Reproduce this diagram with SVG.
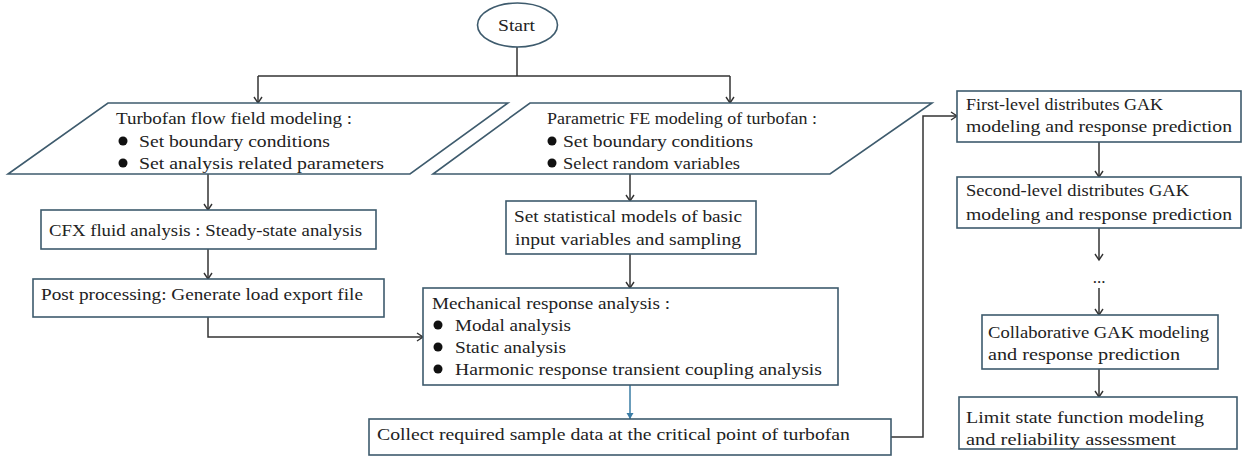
<svg xmlns="http://www.w3.org/2000/svg" width="1246" height="457" viewBox="0 0 1246 457">
<defs>
<marker id="arr" markerWidth="10" markerHeight="10" refX="8" refY="5" orient="auto" markerUnits="userSpaceOnUse">
<path d="M2,1 L8,5 L2,9" fill="none" stroke="#333" stroke-width="1.4"/>
</marker>
<marker id="arrb" markerWidth="8" markerHeight="8" refX="6" refY="4" orient="auto" markerUnits="userSpaceOnUse">
<path d="M0,0.5 L6,4 L0,7.5 Z" fill="#3a7ca5"/>
</marker>
<style>
.box{fill:#fff;stroke:#3e5b6d;stroke-width:1.6}
.t{font-family:"Liberation Serif","Times New Roman",serif;font-size:17px;fill:#222}
.c{fill:none;stroke:#333;stroke-width:1.5}
.cb{fill:none;stroke:#3a7ca5;stroke-width:1.5}
.bul{fill:#111}
</style>
</defs>
<g id="connectors">
<path class="c" d="M517,47 V76"/>
<path class="c" d="M258,76 H730"/>
<path class="c" d="M258,76 V103" marker-end="url(#arr)"/>
<path class="c" d="M730,76 V103" marker-end="url(#arr)"/>
<path class="c" d="M208,174 V210" marker-end="url(#arr)"/>
<path class="c" d="M208,249 V279" marker-end="url(#arr)"/>
<path class="c" d="M208,317 V337 H423" marker-end="url(#arr)"/>
<path class="c" d="M630,174 V201" marker-end="url(#arr)"/>
<path class="c" d="M630,254 V288" marker-end="url(#arr)"/>
<path class="cb" d="M630,385 V419" marker-end="url(#arrb)"/>
<path class="c" d="M891,437 H923 V116 H957" marker-end="url(#arr)"/>
<path class="c" d="M1099,142 V177" marker-end="url(#arr)"/>
<path class="c" d="M1099,228 V260" marker-end="url(#arr)"/>
<path class="c" d="M1099,288 V315" marker-end="url(#arr)"/>
<path class="c" d="M1099,369 V397" marker-end="url(#arr)"/>
</g>
<g id="start">
<ellipse class="box" cx="517.5" cy="25" rx="40" ry="22"/>
<text class="t" x="498" y="31" textLength="37" lengthAdjust="spacingAndGlyphs">Start</text>
</g>
<g id="flowfield">
<polygon class="box" points="108,103 508,103 410,174 8,174"/>
<text class="t" x="116" y="124" textLength="236" lengthAdjust="spacingAndGlyphs">Turbofan flow field modeling :</text>
<circle class="bul" cx="123" cy="141" r="4.5"/>
<text class="t" x="139" y="147" textLength="191" lengthAdjust="spacingAndGlyphs">Set boundary conditions</text>
<circle class="bul" cx="123" cy="163" r="4.5"/>
<text class="t" x="139" y="169" textLength="245" lengthAdjust="spacingAndGlyphs">Set analysis related parameters</text>
</g>
<g id="femodel">
<polygon class="box" points="530,103 932,103 830,174 433,174"/>
<text class="t" x="547" y="124" textLength="270" lengthAdjust="spacingAndGlyphs">Parametric FE modeling of turbofan :</text>
<circle class="bul" cx="552" cy="141" r="4.5"/>
<text class="t" x="563" y="147" textLength="190" lengthAdjust="spacingAndGlyphs">Set boundary conditions</text>
<circle class="bul" cx="552" cy="163" r="4.5"/>
<text class="t" x="563" y="169" textLength="177" lengthAdjust="spacingAndGlyphs">Select random variables</text>
</g>
<g id="cfx">
<rect class="box" x="41" y="210" width="335" height="39"/>
<text class="t" x="49" y="236" textLength="313" lengthAdjust="spacingAndGlyphs">CFX fluid analysis : Steady-state analysis</text>
</g>
<g id="post">
<rect class="box" x="33" y="279" width="351" height="38"/>
<text class="t" x="41" y="300" textLength="322" lengthAdjust="spacingAndGlyphs">Post processing: Generate load export file</text>
</g>
<g id="stat">
<rect class="box" x="506" y="201" width="250" height="53"/>
<text class="t" x="514" y="222" textLength="228" lengthAdjust="spacingAndGlyphs">Set statistical models of basic</text>
<text class="t" x="515" y="245" textLength="226" lengthAdjust="spacingAndGlyphs">input variables and sampling</text>
</g>
<g id="mech">
<rect class="box" x="423" y="288" width="415" height="97"/>
<text class="t" x="432" y="309" textLength="238" lengthAdjust="spacingAndGlyphs">Mechanical response analysis :</text>
<circle class="bul" cx="438" cy="325" r="4.5"/>
<text class="t" x="455" y="331" textLength="116" lengthAdjust="spacingAndGlyphs">Modal analysis</text>
<circle class="bul" cx="438" cy="347" r="4.5"/>
<text class="t" x="455" y="353" textLength="111" lengthAdjust="spacingAndGlyphs">Static analysis</text>
<circle class="bul" cx="438" cy="369" r="4.5"/>
<text class="t" x="455" y="375" textLength="367" lengthAdjust="spacingAndGlyphs">Harmonic response transient coupling analysis</text>
</g>
<g id="collect">
<rect class="box" x="369" y="419" width="522" height="36"/>
<text class="t" x="377" y="440" textLength="473" lengthAdjust="spacingAndGlyphs">Collect required sample data at the critical point of turbofan</text>
</g>
<g id="first">
<rect class="box" x="957" y="91" width="284" height="51"/>
<text class="t" x="966" y="110" textLength="197" lengthAdjust="spacingAndGlyphs">First-level distributes GAK</text>
<text class="t" x="966" y="132" textLength="266" lengthAdjust="spacingAndGlyphs">modeling and response prediction</text>
</g>
<g id="second">
<rect class="box" x="957" y="177" width="284" height="51"/>
<text class="t" x="966" y="196" textLength="223" lengthAdjust="spacingAndGlyphs">Second-level distributes GAK</text>
<text class="t" x="966" y="220" textLength="266" lengthAdjust="spacingAndGlyphs">modeling and response prediction</text>
</g>
<g id="dots">
<text class="t" x="1099" y="283" text-anchor="middle">...</text>
</g>
<g id="collab">
<rect class="box" x="982" y="315" width="236" height="54"/>
<text class="t" x="988" y="338" textLength="221" lengthAdjust="spacingAndGlyphs">Collaborative GAK modeling</text>
<text class="t" x="988" y="360" textLength="192" lengthAdjust="spacingAndGlyphs">and response prediction</text>
</g>
<g id="limit">
<rect class="box" x="959" y="397" width="278" height="52"/>
<text class="t" x="966" y="423" textLength="238" lengthAdjust="spacingAndGlyphs">Limit state function modeling</text>
<text class="t" x="966" y="445" textLength="210" lengthAdjust="spacingAndGlyphs">and reliability assessment</text>
</g>
</svg>
